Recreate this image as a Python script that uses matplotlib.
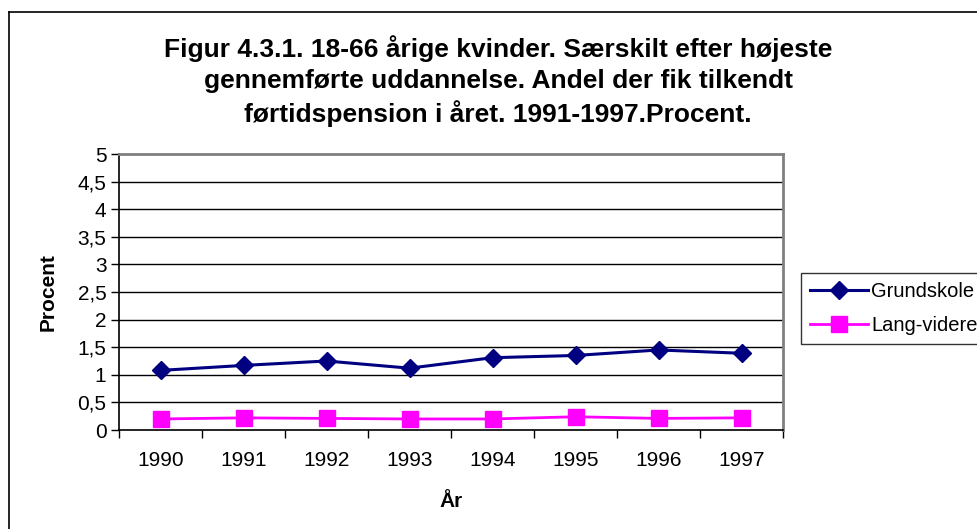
import matplotlib
matplotlib.use("Agg")
import matplotlib.pyplot as plt
from matplotlib.lines import Line2D
import numpy as np

years = ["1990", "1991", "1992", "1993", "1994", "1995", "1996", "1997"]
grundskole = [1.08, 1.17, 1.25, 1.12, 1.31, 1.35, 1.45, 1.39]
lang_videre = [0.20, 0.22, 0.21, 0.20, 0.20, 0.24, 0.21, 0.22]
ytick_labels = ["0", "0,5", "1", "1,5", "2", "2,5", "3", "3,5", "4", "4,5", "5"]

plt.rcParams['font.family'] = ['Liberation Sans', 'DejaVu Sans']

FS = 15

fig = plt.figure(figsize=(9.77, 5.29), dpi=100)
ax = fig.add_axes([119/977, 1-430/529, 664/977, 276/529])

x = np.arange(len(years))
ax.plot(x, grundskole, color='#000080', lw=2.2, marker='D', ms=9,
        markeredgecolor='#000080', markerfacecolor='#000080', label='Grundskole', zorder=3)
ax.plot(x, lang_videre, color='#FF00FF', lw=2, marker='s', ms=11,
        markeredgecolor='#FF00FF', markerfacecolor='#FF00FF', label='Lang-videre', zorder=3)

ax.set_xlim(-0.5, len(years) - 0.5)
ax.set_ylim(0, 5)
yt = np.arange(0, 5.01, 0.5)
ax.set_yticks(yt)
ax.set_yticklabels(ytick_labels, fontsize=FS)
for yv in yt[1:-1]:
    ax.axhline(yv, color='black', lw=1, zorder=1)

ax.set_xticks(np.arange(-0.5, len(years), 1.0))
ax.set_xticklabels([])
ax.set_xticks(x, minor=True)
ax.set_xticklabels(years, minor=True, fontsize=FS)
ax.tick_params(axis='x', which='minor', length=0, pad=15)
ax.tick_params(axis='x', which='major', length=6, width=1, direction='out', color='black')
ax.tick_params(axis='y', length=6, width=1, direction='out', pad=3)

for s in ['top', 'right']:
    ax.spines[s].set_color('#808080')
    ax.spines[s].set_linewidth(2)
for s in ['left', 'bottom']:
    ax.spines[s].set_color('black')
    ax.spines[s].set_linewidth(1.2)

ax.set_xlabel('År', fontsize=FS, fontweight='bold', labelpad=16)
ax.set_ylabel('Procent', fontsize=FS, fontweight='bold', labelpad=14)

fig.text(498/977, 1-81/529,
         "Figur 4.3.1. 18-66 årige kvinder. Særskilt efter højeste\n"
         "gennemførte uddannelse. Andel der fik tilkendt\n"
         "førtidspension i året. 1991-1997.Procent.",
         ha='center', va='center', fontsize=19, fontweight='bold', linespacing=1.33)

leg = fig.legend(loc='upper left', bbox_to_anchor=(801/977, 1-273/529),
                 fontsize=14.5, frameon=True, fancybox=False, edgecolor='black',
                 borderpad=0.45, handlelength=2.9, labelspacing=0.75, handletextpad=0.15,
                 borderaxespad=0)
leg.get_frame().set_linewidth(1)

# outer chart frame (left and top edges visible)
fig.add_artist(Line2D([9/977, 9/977], [0, 1-12/529], color='black', lw=1.2))
fig.add_artist(Line2D([9/977, 1], [1-12/529, 1-12/529], color='black', lw=1.2))

fig.savefig('out.png', dpi=100)
